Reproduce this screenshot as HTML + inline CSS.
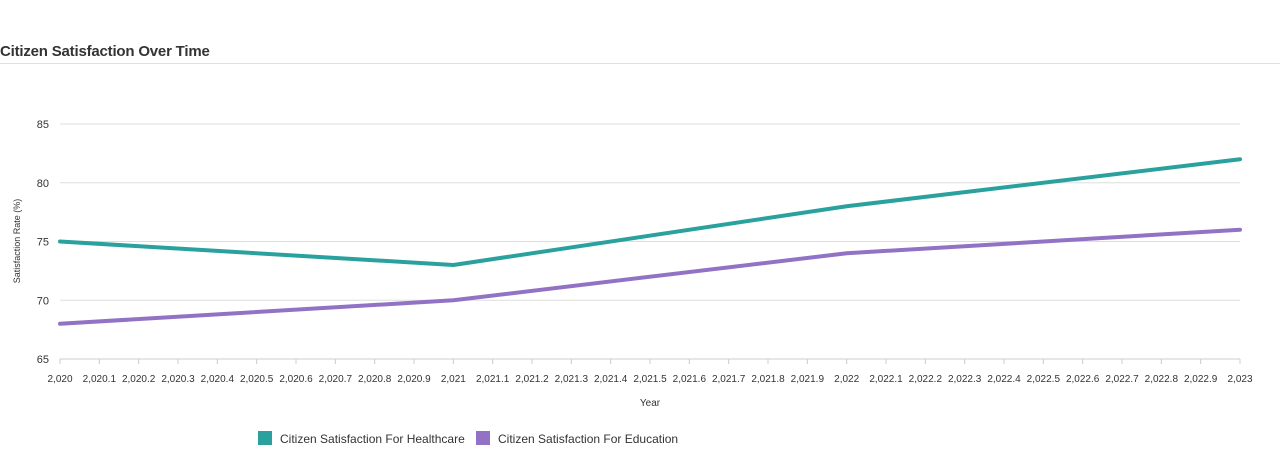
<!DOCTYPE html>
<html><head><meta charset="utf-8"><style>
body{margin:0;background:#fff;width:1280px;height:454px;overflow:hidden;font-family:"Liberation Sans",sans-serif}
#title{position:absolute;left:0;top:43px;font-size:15px;font-weight:bold;color:#333;letter-spacing:-0.2px}
#rule{position:absolute;left:0;top:63px;width:1280px;height:1px;background:#e0e0e0}
</style></head><body>
<div id="title">Citizen Satisfaction Over Time</div>
<div id="rule"></div>
<svg id="c" width="1280" height="454" style="position:absolute;left:0;top:0"></svg>
<script>
const years=[2020,2021,2022,2023];
const healthcare=[75,73,78,82];
const education=[68,70,74,76];
const yTicks=[65,70,75,80,85];
const seriesNames=["Citizen Satisfaction For Healthcare","Citizen Satisfaction For Education"];
const colors=["#2aa19e","#9272c4"];
const X0=60,X1=1240,Y0=359,Y1=124;
const xS=v=>X0+(v-2020)/3*(X1-X0);
const yS=v=>Y0-(v-65)/20*(Y0-Y1);
const svg=document.getElementById('c');
const NS='http://www.w3.org/2000/svg';
function mk(t,a,p){const e=document.createElementNS(NS,t);for(const k in a)e.setAttribute(k,a[k]);(p||svg).appendChild(e);return e;}
yTicks.forEach(v=>{
 const l=mk('line',{x1:X0,x2:X1,y1:yS(v),y2:yS(v),stroke:v===65?'#ccc':'#ddd','stroke-width':1});
 
 
 const t=mk('text',{x:X0-11,y:yS(v)+4,'text-anchor':'end','font-size':11,fill:'#333'});
 t.textContent=v;
 
 
});
for(let i=0;i<=30;i++){
 const v=2020+i/10;
 const x=xS(v);
 const tk=mk('line',{x1:x,x2:x,y1:Y0,y2:Y0+5,stroke:'#ccc'});
 
 
 const t=mk('text',{x:x,y:Y0+23,'text-anchor':'middle','font-size':10,fill:'#333'});
 t.textContent=v.toLocaleString('en-US',{maximumFractionDigits:1});
 
 
}
const xt=mk('text',{x:650,y:406,'text-anchor':'middle','font-size':10,fill:'#333'});
xt.textContent='Year';


const yt=mk('text',{x:20,y:241,'text-anchor':'middle','font-size':9,fill:'#333',transform:'rotate(-90 20 241)'});
yt.textContent='Satisfaction Rate (%)';


[healthcare,education].forEach((s,si)=>{
 const p=mk('polyline',{points:s.map((v,i)=>xS(years[i])+','+yS(v)).join(' '),fill:'none',stroke:colors[si],'stroke-width':4,'stroke-linejoin':'round','stroke-linecap':'round'});
 
 
});
const lx=[258,476];
seriesNames.forEach((n,i)=>{
 const r=mk('rect',{x:lx[i],y:431,width:14,height:14,fill:colors[i]});
 
 
 const t=mk('text',{x:lx[i]+22,y:443,'font-size':12,fill:'#333'});
 t.textContent=n;
 
 
});
</script>
</body></html>
